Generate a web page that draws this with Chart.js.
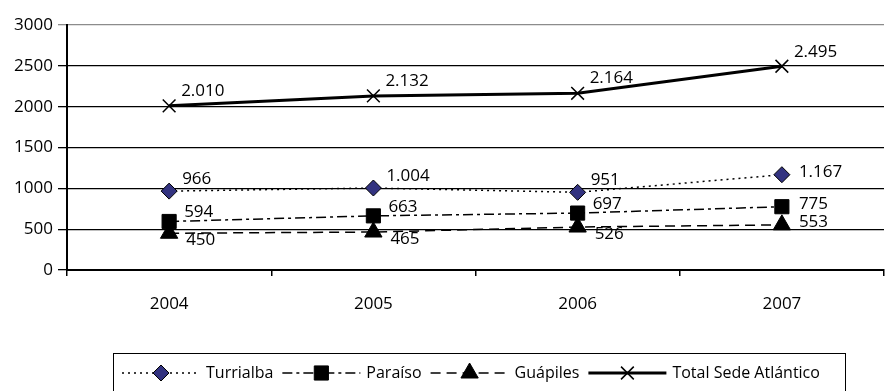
<!DOCTYPE html>
<html>
<head>
<meta charset="utf-8">
<script src="https://cdn.jsdelivr.net/npm/chart.js@4"></script>
<style>
  html, body { margin: 0; padding: 0; background: #fff; overflow: hidden; }
  #wrap { width: 895px; height: 391px; }
</style>
</head>
<body>
<div id="wrap"><canvas id="chart" width="895" height="391"></canvas></div>
<script>
// ===== Data =====
const years = ["2004", "2005", "2006", "2007"];
const turrialba = [966, 1004, 951, 1167];
const paraiso = [594, 663, 697, 775];
const guapiles = [450, 465, 526, 553];
const totalSede = [2010, 2132, 2164, 2495];
const seriesNames = ["Turrialba", "Paraíso", "Guápiles", "Total Sede Atlántico"];

const FONT = "'Open Sans', 'DejaVu Sans', sans-serif";
const FSIZE = 17;

// ===== Helpers =====
function fmt(v) {
  // thousands separator as "."
  if (v < 1000) return String(v);
  return Math.floor(v / 1000) + "." + String(v % 1000).padStart(3, "0");
}

// ===== Value labels next to points =====
const valueLabels = {
  id: "valueLabels",
  afterDatasetsDraw(chart) {
    const ctx = chart.ctx;
    ctx.save();
    ctx.font = FSIZE + "px " + FONT;
    ctx.fillStyle = "#000";
    ctx.textAlign = "left";
    ctx.textBaseline = "middle";
    chart.data.datasets.forEach((ds, i) => {
      const meta = chart.getDatasetMeta(i);
      meta.data.forEach((pt, j) => {
        const last = j === meta.data.length - 1;
        const dx = last ? ds.lastDx : ds.labelDx;
        const dy = last ? ds.lastDy : ds.labelDy;
        ctx.fillText(fmt(ds.data[j]), pt.x + dx, pt.y + dy);
      });
    });
    ctx.restore();
  }
};

// ===== Boxed legend at the bottom =====
const boxLegend = {
  id: "boxLegend",
  afterDraw(chart) {
    const ctx = chart.ctx;
    ctx.save();
    ctx.strokeStyle = "#000";
    ctx.lineWidth = 1;
    ctx.strokeRect(113.5, 353.5, 732, 50);

    ctx.font = "16px " + FONT;
    ctx.textBaseline = "middle";
    ctx.textAlign = "left";
    const y = 373;
    let x = 122;
    chart.data.datasets.forEach(ds => {
      // line sample
      ctx.save();
      ctx.strokeStyle = ds.borderColor;
      ctx.lineWidth = ds.borderWidth;
      ctx.setLineDash(ds.borderDash || []);
      ctx.beginPath();
      ctx.moveTo(x, y);
      ctx.lineTo(x + 78, y);
      ctx.stroke();
      ctx.restore();
      // marker
      ctx.save();
      ctx.setLineDash([]);
      ctx.fillStyle = ds.pointBackgroundColor;
      ctx.strokeStyle = ds.pointBorderColor;
      ctx.lineWidth = ds.pointBorderWidth;
      Chart.helpers.drawPoint(ctx, {
        pointStyle: ds.pointStyle,
        radius: ds.pointRadius,
        rotation: 0,
        borderWidth: ds.pointBorderWidth
      }, x + 39, y);
      ctx.restore();
      // text
      ctx.fillStyle = "#000";
      ctx.fillText(ds.label, x + 84, y);
      x = x + 84 + ctx.measureText(ds.label).width + 9;
    });
    ctx.restore();
  }
};

// ===== Chart =====
const chart = new Chart(document.getElementById("chart"), {
  type: "line",
  data: {
    labels: years,
    datasets: [
      {
        label: seriesNames[0], data: turrialba,
        borderColor: "#000", borderWidth: 1.5, borderDash: [2, 4],
        pointStyle: "rectRot", pointRadius: 8,
        pointBackgroundColor: "#333380", pointBorderColor: "#000", pointBorderWidth: 1,
        labelDx: 13, labelDy: -12, lastDx: 17, lastDy: -3
      },
      {
        label: seriesNames[1], data: paraiso,
        borderColor: "#000", borderWidth: 1.5, borderDash: [10, 4, 3, 4],
        pointStyle: "rect", pointRadius: 10,
        pointBackgroundColor: "#000", pointBorderColor: "#000", pointBorderWidth: 1,
        labelDx: 15, labelDy: -9, lastDx: 17, lastDy: -3
      },
      {
        label: seriesNames[2], data: guapiles,
        borderColor: "#000", borderWidth: 1.5, borderDash: [10, 6],
        pointStyle: "triangle", pointRadius: 10,
        pointBackgroundColor: "#000", pointBorderColor: "#000", pointBorderWidth: 1,
        labelDx: 17, labelDy: 7, lastDx: 17, lastDy: -3
      },
      {
        label: seriesNames[3], data: totalSede,
        borderColor: "#000", borderWidth: 3, borderDash: [],
        pointStyle: "crossRot", pointRadius: 9,
        pointBackgroundColor: "#fff", pointBorderColor: "#000", pointBorderWidth: 1.5,
        labelDx: 12, labelDy: -15, lastDx: 12, lastDy: -14
      }
    ]
  },
  options: {
    responsive: false,
    animation: false,
    tension: 0,
    layout: { padding: { top: 25, right: 0, left: 0, bottom: 0 } },
    plugins: {
      legend: { display: false },
      tooltip: { enabled: false }
    },
    scales: {
      x: {
        offset: true,
        grid: {
          display: true, drawOnChartArea: false, drawTicks: true,
          tickLength: 6, color: "#000", lineWidth: 1.5, offset: true
        },
        border: { color: "#000", width: 2 },
        ticks: { color: "#000", font: { family: FONT, size: FSIZE }, padding: 18, maxRotation: 0 },
        afterFit(scale) { scale.height = 121; }
      },
      y: {
        min: 0, max: 3000,
        grid: {
          color: c => (c.tick && c.tick.value === 3000 ? "#8c8c8c" : "#000"),
          lineWidth: 1.3, drawTicks: true, tickLength: 9
        },
        border: { color: "#000", width: 2 },
        ticks: {
          stepSize: 500, color: "#000", font: { family: FONT, size: FSIZE }, padding: 5,
          callback: v => String(v)
        },
        afterFit(scale) { scale.width = 67; }
      }
    }
  },
  plugins: [valueLabels, boxLegend]
});
</script>
</body>
</html>
